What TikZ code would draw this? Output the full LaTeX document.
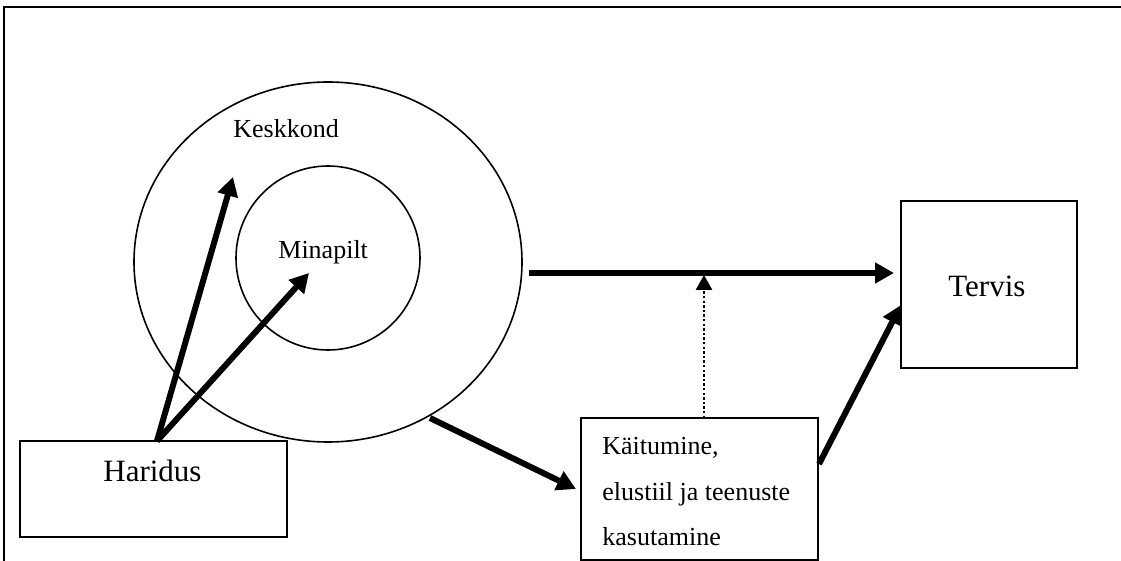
\documentclass[tikz,border=0pt]{standalone}
\usepackage{fontspec}
\setmainfont{Liberation Serif}
\usetikzlibrary{arrows.meta,shapes.geometric}
\begin{document}
\begin{tikzpicture}[x=0.5pt,y=-0.5pt,
  thin line/.style={line width=0.8pt},
  boxnode/.style={draw,line width=0.8pt,inner sep=0pt},
  bigtext/.style={font=\fontsize{15.5}{18}\selectfont,inner sep=0pt},
  smalltext/.style={font=\fontsize{13}{23}\selectfont,inner sep=0pt},
  thick arrow/.style={line width=3pt,-{Triangle[length=9.5pt,width=10pt]}},
  dot arrow/.style={line width=1.4pt,dash pattern=on 1.2pt off 1.1pt,-{Triangle[length=7.5pt,width=8pt]}}]
\useasboundingbox (0,0) rectangle (1121,561);
% frame
\draw[line width=1pt] (4,561) -- (4,7) -- (1121,7);
% ellipses
\node[draw,thin line,ellipse,minimum width=194pt,minimum height=180pt,inner sep=0pt] (outer) at (328,262) {};
\node[draw,thin line,circle,minimum size=92pt,inner sep=0pt] (inner) at (328,258) {};
\node[smalltext,anchor=base west] (kesk) at (233,138) {Keskkond};
\node[smalltext,anchor=base west] (mina) at (278,259) {Minapilt};
% boxes
\node[boxnode,minimum width=133.5pt,minimum height=48pt] (har) at (153.5,489) {};
\node[bigtext,anchor=base west] (hartxt) at (103,482) {Haridus};
\node[boxnode,minimum width=118.5pt,minimum height=71pt] (kai) at (699.5,489) {};
\node[smalltext,anchor=base west,align=left] (kaitxt) at (602,546) {Käitumine,\\elustiil ja teenuste\\kasutamine};
\node[boxnode,minimum width=88pt,minimum height=83.5pt] (ter) at (989,284.5) {};
\node[bigtext,anchor=base west] (tertxt) at (948,297) {Tervis};
% coordinates
\coordinate (hs) at (157,441);
\coordinate (t1) at (233,177);
\coordinate (t2) at (309,273);
\coordinate (os) at (430,418);
\coordinate (kt) at (576,489);
\coordinate (hl) at (529,273);
\coordinate (hr) at (894,273);
\coordinate (db) at (704,418);
\coordinate (dt) at (704,275);
\coordinate (ks) at (819,464);
\coordinate (te) at (901,305);
% arrows
\draw[thick arrow] (hs) -- (t1);
\draw[thick arrow] (hs) -- (t2);
\draw[thick arrow] (os) -- (kt);
\draw[thick arrow] (hl) -- (hr);
\draw[dot arrow] (db) -- (dt);
\draw[thick arrow] (ks) -- (te);
\end{tikzpicture}
\end{document}
